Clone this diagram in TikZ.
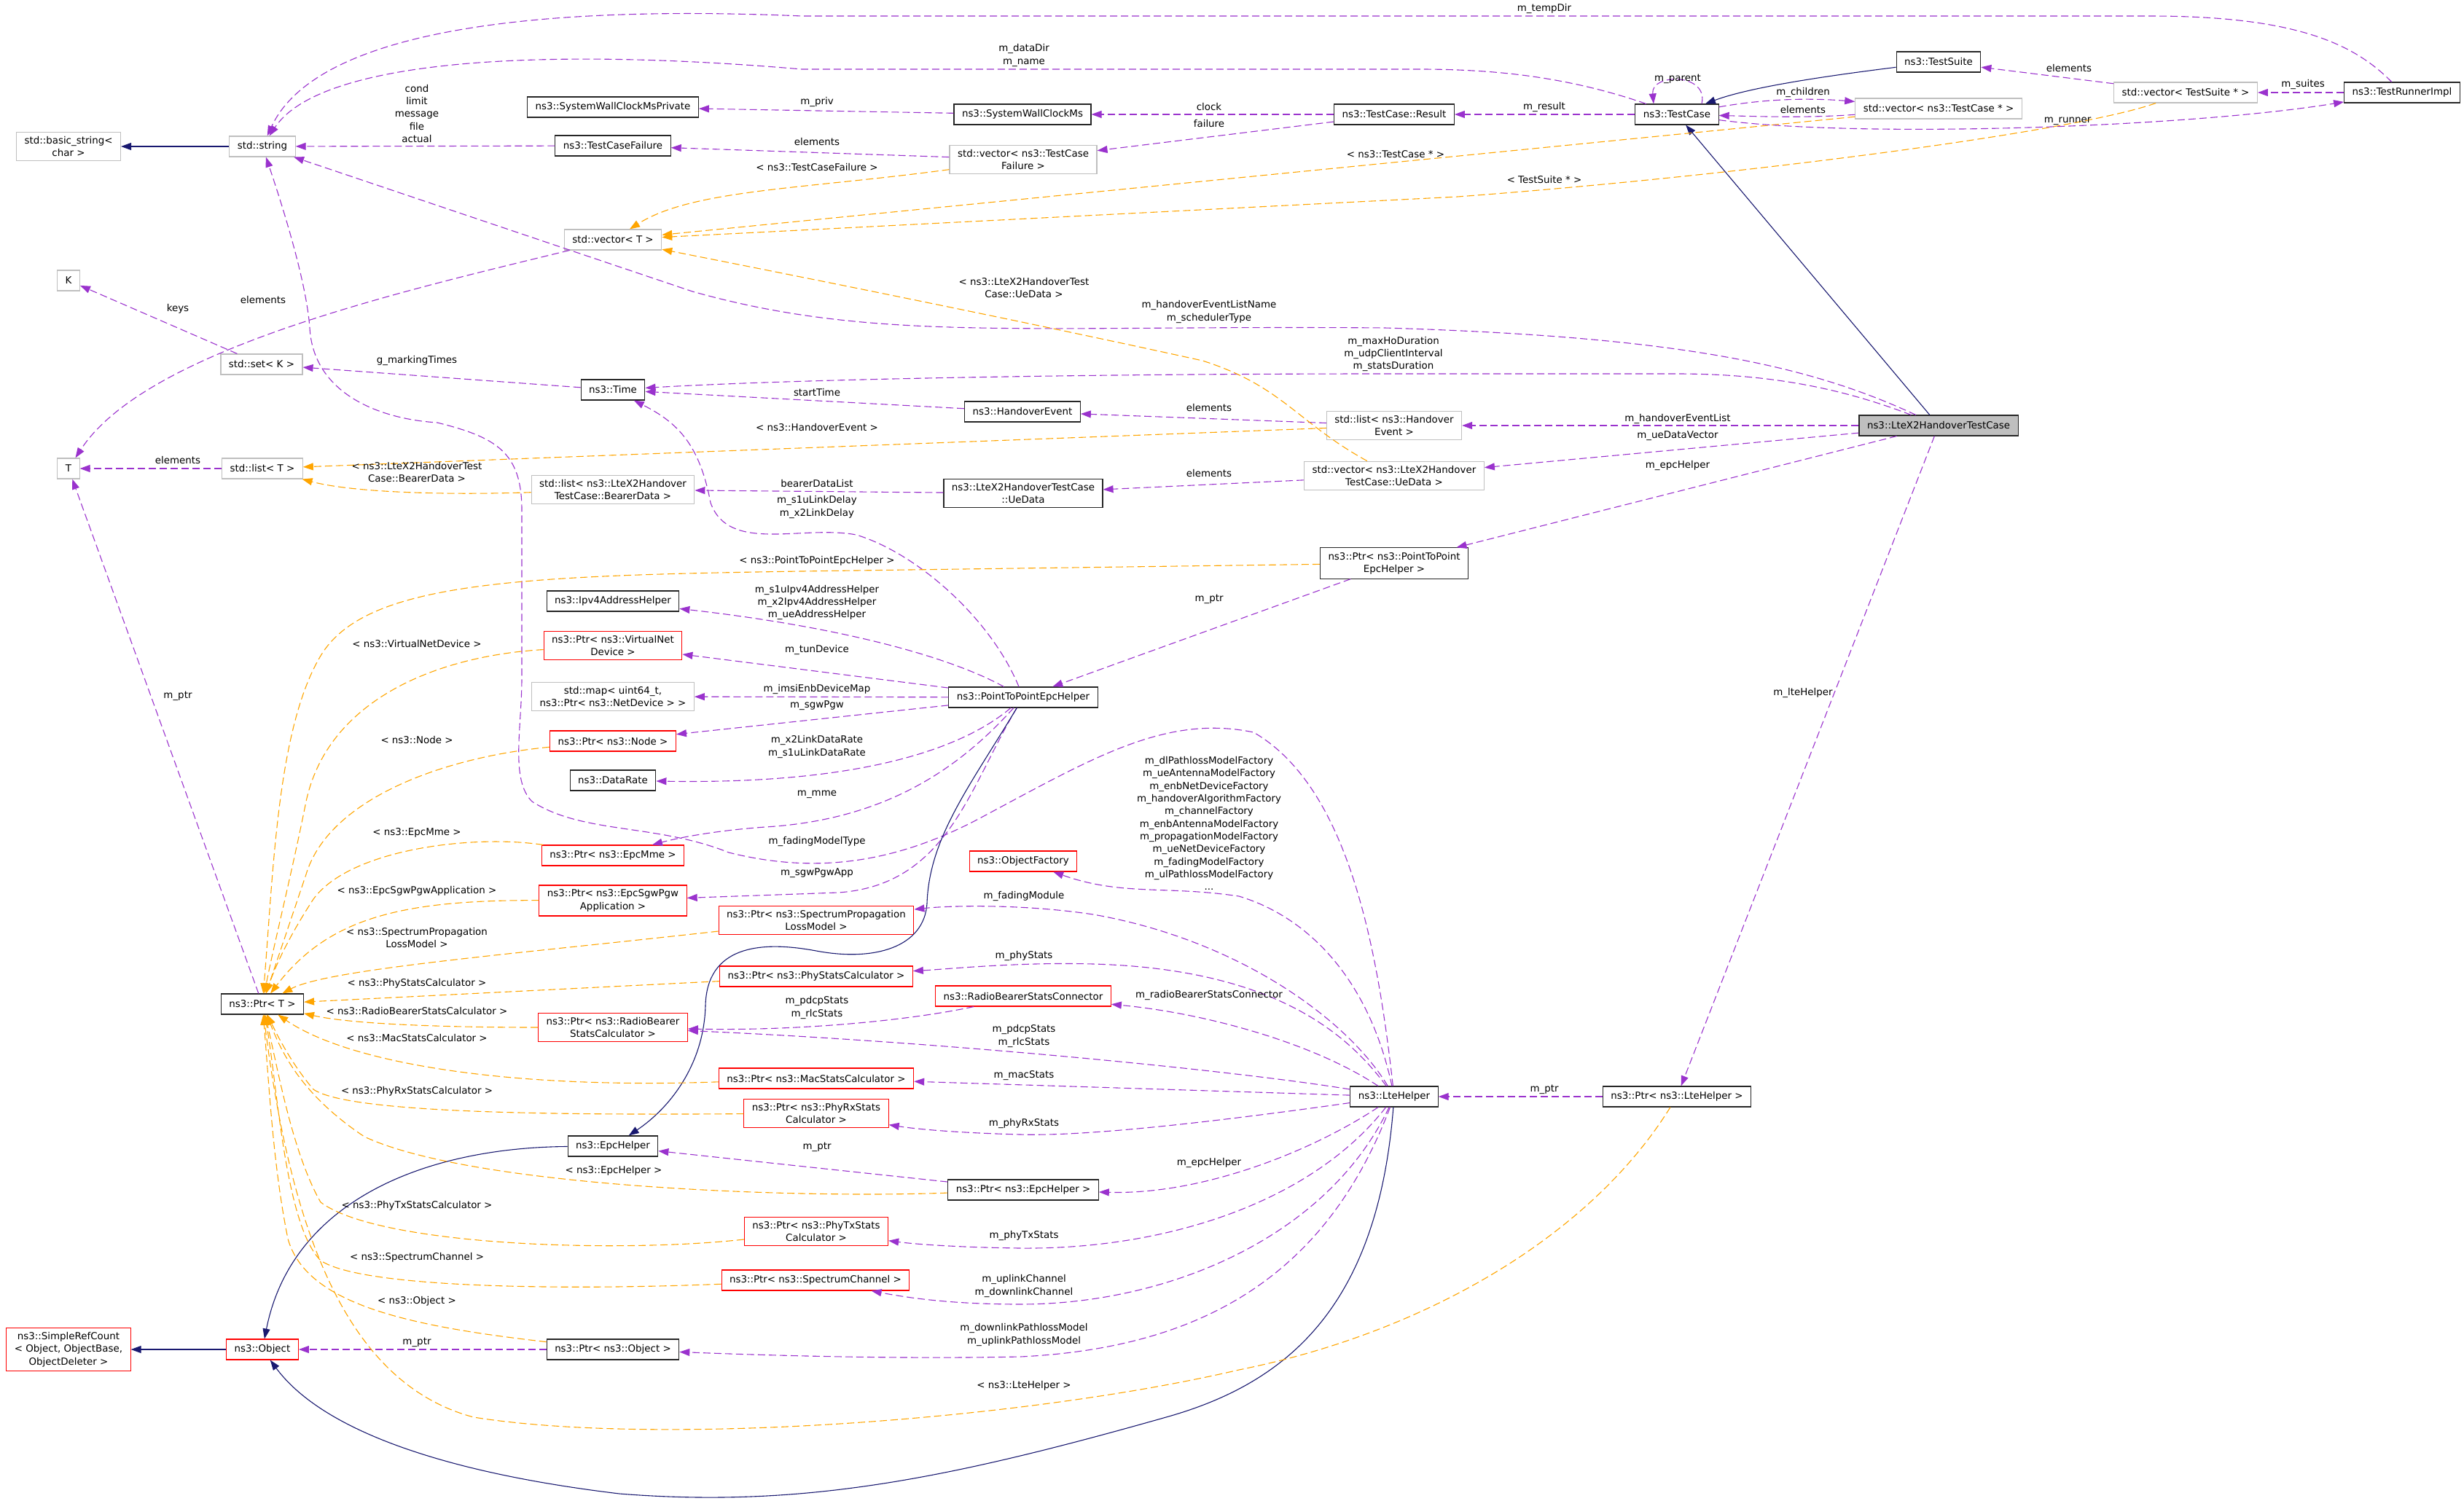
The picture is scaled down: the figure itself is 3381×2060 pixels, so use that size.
\documentclass[tikz,border=0pt]{standalone}
\usepackage{fontspec}
\setmainfont{DejaVu Sans}
\usepackage{tikz}
\usetikzlibrary{arrows.meta}
\definecolor{EdgeUse}{HTML}{9A32CD}
\definecolor{EdgeTmpl}{HTML}{FFA500}
\definecolor{EdgeInh}{HTML}{191970}
\definecolor{BoxGray}{HTML}{BFBFBF}
\definecolor{BoxRed}{HTML}{FF0000}

\begin{document}
\begin{tikzpicture}[
  x=1pt, y=-1pt,
  every node/.style={font=\fontsize{13.4}{17.3}\selectfont},
  classbox/.style={
    draw=black!85,
    line width=1.1pt,
    fill=white,
    align=center,
    inner xsep=11pt,
    inner ysep=6pt,
    minimum height=28pt
  },
  tplbox/.style={classbox, draw=BoxGray},
  redbox/.style={classbox, draw=BoxRed},
  mainbox/.style={classbox, fill=BoxGray},
  edgelabel/.style={align=center, inner sep=0pt},
  usearrow/.style={-{Triangle[length=14pt,width=10pt]}, line width=1.1pt, draw=EdgeUse, dash pattern=on 10pt off 5pt},
  tplarrow/.style={usearrow, draw=EdgeTmpl},
  inharrow/.style={-{Triangle[length=14pt,width=10pt]}, line width=1.1pt, draw=EdgeInh}
]
\useasboundingbox (0,0) rectangle (3381,2060);
\node[tplbox] (bstr) at (94,201) {std::basic\_string<\\char >};
\node[tplbox] (str) at (360,201) {std::string};
\node[classbox] (swcp) at (841,147) {ns3::SystemWallClockMsPrivate};
\node[classbox] (tcf) at (841,200) {ns3::TestCaseFailure};
\node[tplbox] (vect) at (841,329) {std::vector< T >};
\node[tplbox] (kk) at (94,385) {K};
\node[tplbox] (setk) at (359,500) {std::set< K >};
\node[classbox] (time) at (841,535) {ns3::Time};
\node[tplbox] (tt) at (94,643) {T};
\node[tplbox] (listt) at (360,643) {std::list< T >};
\node[tplbox] (listbd) at (841,672) {std::list< ns3::LteX2Handover\\TestCase::BearerData >};
\node[classbox] (swc) at (1403,157) {ns3::SystemWallClockMs};
\node[classbox] (result) at (1913,157) {ns3::TestCase::Result};
\node[tplbox] (vectcf) at (1404,219) {std::vector< ns3::TestCase\\Failure >};
\node[classbox] (hoev) at (1403,565) {ns3::HandoverEvent};
\node[tplbox] (listhe) at (1913,584) {std::list< ns3::Handover\\Event >};
\node[tplbox] (vecue) at (1913,653) {std::vector< ns3::LteX2Handover\\TestCase::UeData >};
\node[classbox] (uedata) at (1404,677) {ns3::LteX2HandoverTestCase\\::UeData};
\node[classbox] (suite) at (2660,85) {ns3::TestSuite};
\node[classbox] (tcase) at (2301,157) {ns3::TestCase};
\node[tplbox] (vectc) at (2660,149) {std::vector< ns3::TestCase * >};
\node[tplbox] (vects) at (2999,127) {std::vector< TestSuite * >};
\node[classbox] (runner) at (3296,127) {ns3::TestRunnerImpl};
\node[mainbox] (handover) at (2660,584) {ns3::LteX2HandoverTestCase};
\node[classbox] (ptrt) at (360,1378) {ns3::Ptr< T >};
\node[classbox] (ipv4) at (841,825) {ns3::Ipv4AddressHelper};
\node[redbox] (pvnd) at (841,886) {ns3::Ptr< ns3::VirtualNet\\Device >};
\node[tplbox] (devmap) at (841,956) {std::map< uint64\_t,\\ ns3::Ptr< ns3::NetDevice > >};
\node[redbox] (pnode) at (841,1017) {ns3::Ptr< ns3::Node >};
\node[classbox] (drate) at (841,1071) {ns3::DataRate};
\node[redbox] (pmme) at (841,1174) {ns3::Ptr< ns3::EpcMme >};
\node[redbox] (psgw) at (841,1236) {ns3::Ptr< ns3::EpcSgwPgw\\Application >};
\node[redbox] (pspl) at (1120,1263) {ns3::Ptr< ns3::SpectrumPropagation\\LossModel >};
\node[redbox] (pphy) at (1120,1340) {ns3::Ptr< ns3::PhyStatsCalculator >};
\node[redbox] (prbsc) at (841,1410) {ns3::Ptr< ns3::RadioBearer\\StatsCalculator >};
\node[classbox] (p2p) at (1404,957) {ns3::PointToPointEpcHelper};
\node[classbox] (pp2p) at (1913,773) {ns3::Ptr< ns3::PointToPoint\\EpcHelper >};
\node[redbox] (ofac) at (1404,1182) {ns3::ObjectFactory};
\node[redbox] (rbscon) at (1404,1367) {ns3::RadioBearerStatsConnector};
\node[redbox] (pmac) at (1120,1480) {ns3::Ptr< ns3::MacStatsCalculator >};
\node[redbox] (prx) at (1120,1528) {ns3::Ptr< ns3::PhyRxStats\\Calculator >};
\node[classbox] (epc) at (841,1573) {ns3::EpcHelper};
\node[classbox] (pepc) at (1404,1633) {ns3::Ptr< ns3::EpcHelper >};
\node[redbox] (ptx) at (1120,1690) {ns3::Ptr< ns3::PhyTxStats\\Calculator >};
\node[redbox] (pchan) at (1119,1757) {ns3::Ptr< ns3::SpectrumChannel >};
\node[redbox] (srefc) at (94,1852) {ns3::SimpleRefCount\\< Object, ObjectBase,\\ObjectDeleter >};
\node[redbox] (obj) at (360,1852) {ns3::Object};
\node[classbox] (pobj) at (841,1852) {ns3::Ptr< ns3::Object >};
\node[classbox] (lte) at (1913,1505) {ns3::LteHelper};
\node[classbox] (plte) at (2301,1505) {ns3::Ptr< ns3::LteHelper >};
\draw[inharrow] (str) -- (bstr);
\draw[usearrow] (tcf) -- (str);
\draw[usearrow] (runner) .. controls (3230,60) and (3150,22) .. (2950,22) -- (1100,22) .. controls (700,5) and (430,50) .. (str);
\draw[usearrow] (tcase) .. controls (2150,105) and (2050,95) .. (1947,95) -- (1100,95) .. controls (750,65) and (440,80) .. (str);
\draw[usearrow] (handover) .. controls (2480,500) and (2300,462) .. (1900,450) .. controls (1400,446) and (1200,470) .. (950,400) -- (str);
\draw[usearrow] (lte) .. controls (1890,1300) and (1850,1080) .. (1720,1005) .. controls (1600,980) and (1500,1040) .. (1350,1120) .. controls (1230,1185) and (1120,1200) .. (1000,1170) .. controls (900,1130) and (800,1145) .. (730,1100) .. controls (700,1070) and (716,1000) .. (716,930) -- (716,700) .. controls (716,620) and (680,600) .. (600,580) .. controls (520,575) and (430,540) .. (425,450) .. controls (420,380) and (380,260) .. (str);
\draw[usearrow] (p2p) .. controls (1330,1080) and (1300,1215) .. (1150,1225) -- (psgw);
\draw[usearrow] (p2p) .. controls (1320,1050) and (1220,1125) .. (1050,1135) .. controls (980,1140) and (930,1150) .. (pmme);
\draw[usearrow] (p2p) .. controls (1330,1020) and (1200,1077) .. (drate);
\draw[usearrow] (p2p) -- (pnode);
\draw[usearrow] (p2p) -- (devmap);
\draw[usearrow] (p2p) -- (pvnd);
\draw[usearrow] (p2p) .. controls (1300,900) and (1150,860) .. (ipv4);
\draw[usearrow] (p2p) .. controls (1360,850) and (1260,760) .. (1175,734) .. controls (1100,720) and (1000,760) .. (975,690) .. controls (960,610) and (930,580) .. (time);
\draw[usearrow] (uedata) -- (listbd);
\draw[inharrow] (p2p) .. controls (1330,1080) and (1275,1150) .. (1272,1240) .. controls (1268,1300) and (1200,1320) .. (1120,1305) .. controls (1040,1290) and (970,1300) .. (968,1380) .. controls (966,1460) and (920,1520) .. (epc);
\draw[inharrow] (epc) .. controls (580,1575) and (400,1650) .. (obj);
\draw[inharrow] (lte) .. controls (1890,1800) and (1760,1900) .. (1600,1945) .. controls (1300,2030) and (1100,2070) .. (850,2050) .. controls (600,2020) and (440,1960) .. (obj);
\draw[inharrow] (obj) -- (srefc);
\draw[usearrow] (pobj) -- (obj);
\draw[tplarrow] (pobj) .. controls (560,1820) and (420,1790) .. (395,1700) .. controls (375,1600) and (370,1500) .. (ptrt);
\draw[usearrow] (lte) .. controls (1820,1750) and (1650,1850) .. (1400,1862) .. controls (1200,1866) and (1000,1858) .. (pobj);
\draw[tplarrow] (plte) .. controls (2180,1700) and (1950,1830) .. (1700,1880) .. controls (1400,1950) and (900,1985) .. (650,1945) .. controls (480,1900) and (400,1700) .. (ptrt);
\draw[usearrow] (handover) -- (plte);
\draw[usearrow] (plte) -- (lte);
\draw[usearrow] (lte) .. controls (1800,1580) and (1650,1640) .. (pepc);
\draw[usearrow] (pepc) -- (epc);
\draw[tplarrow] (pepc) .. controls (1100,1645) and (650,1630) .. (500,1560) .. controls (410,1500) and (385,1440) .. (ptrt);
\draw[usearrow] (lte) .. controls (1800,1650) and (1600,1715) .. (1400,1713) .. controls (1320,1712) and (1260,1708) .. (ptx);
\draw[tplarrow] (ptx) .. controls (850,1720) and (520,1710) .. (440,1650) .. controls (400,1580) and (380,1460) .. (ptrt);
\draw[usearrow] (lte) .. controls (1820,1700) and (1600,1790) .. (1400,1790) .. controls (1300,1790) and (1240,1780) .. (pchan);
\draw[tplarrow] (pchan) .. controls (800,1770) and (500,1770) .. (440,1730) .. controls (390,1680) and (380,1480) .. (ptrt);
\draw[usearrow] (lte) .. controls (1700,1535) and (1500,1560) .. (1400,1557) .. controls (1320,1555) and (1260,1550) .. (prx);
\draw[tplarrow] (prx) .. controls (800,1530) and (480,1530) .. (430,1495) .. controls (400,1460) and (380,1420) .. (ptrt);
\draw[usearrow] (lte) -- (pmac);
\draw[tplarrow] (pmac) .. controls (700,1495) and (480,1460) .. (ptrt);
\draw[usearrow] (lte) .. controls (1700,1470) and (1300,1430) .. (prbsc);
\draw[usearrow] (rbscon) .. controls (1250,1400) and (1100,1415) .. (prbsc);
\draw[usearrow] (lte) .. controls (1800,1430) and (1650,1390) .. (rbscon);
\draw[tplarrow] (prbsc) .. controls (600,1410) and (480,1405) .. (ptrt);
\draw[usearrow] (lte) .. controls (1850,1420) and (1750,1330) .. (1500,1323) .. controls (1400,1320) and (1300,1330) .. (pphy);
\draw[tplarrow] (pphy) -- (ptrt);
\draw[usearrow] (lte) .. controls (1850,1400) and (1700,1290) .. (1500,1255) .. controls (1400,1240) and (1300,1243) .. (pspl);
\draw[tplarrow] (pspl) .. controls (700,1310) and (450,1330) .. (ptrt);
\draw[usearrow] (lte) .. controls (1880,1350) and (1800,1260) .. (1700,1230) .. controls (1600,1215) and (1540,1230) .. (ofac);
\draw[usearrow] (handover) .. controls (2520,530) and (2420,513) .. (2300,513) -- (1900,513) .. controls (1500,513) and (1100,520) .. (time);
\draw[usearrow] (hoev) -- (time);
\draw[usearrow] (time) -- (setk);
\draw[usearrow] (setk) -- (kk);
\draw[usearrow] (vect) .. controls (550,400) and (200,480) .. (tt);
\draw[usearrow] (listt) -- (tt);
\draw[usearrow] (ptrt) -- (tt);
\draw[tplarrow] (listbd) .. controls (600,680) and (480,675) .. (listt);
\draw[tplarrow] (listhe) -- (listt);
\draw[usearrow] (listhe) -- (hoev);
\draw[usearrow] (handover) -- (listhe);
\draw[usearrow] (handover) -- (vecue);
\draw[usearrow] (vecue) -- (uedata);
\draw[tplarrow] (vecue) .. controls (1780,580) and (1760,530) .. (1650,495) .. controls (1400,440) and (1100,380) .. (vect);
\draw[usearrow] (handover) -- (pp2p);
\draw[usearrow] (pp2p) -- (p2p);
\draw[tplarrow] (pp2p) -- (1100,784) .. controls (700,790) and (500,800) .. (440,900) .. controls (380,1000) and (375,1200) .. (ptrt);
\draw[tplarrow] (pvnd) .. controls (600,900) and (450,960) .. (420,1100) .. controls (400,1200) and (375,1300) .. (ptrt);
\draw[tplarrow] (pnode) .. controls (600,1040) and (450,1100) .. (420,1200) -- (ptrt);
\draw[tplarrow] (pmme) .. controls (650,1145) and (480,1165) .. (430,1234) .. controls (400,1280) and (380,1320) .. (ptrt);
\draw[tplarrow] (psgw) .. controls (550,1235) and (450,1260) .. (ptrt);
\draw[inharrow] (handover) -- (tcase);
\draw[usearrow] (tcase) -- (result);
\draw[usearrow] (result) -- (swc);
\draw[usearrow] (result) -- (vectcf);
\draw[usearrow] (swc) -- (swcp);
\draw[usearrow] (vectcf) -- (tcf);
\draw[tplarrow] (vectcf) .. controls (1100,260) and (950,260) .. (vect);
\draw[tplarrow] (vectc) -- (vect);
\draw[tplarrow] (vects) .. controls (2850,180) and (2400,240) .. (2000,270) -- (vect);
\draw[usearrow] ([xshift=34pt]tcase.north) .. controls (2345,100) and (2265,100) .. ([xshift=-32pt]tcase.north);
\draw[usearrow] (tcase) .. controls (2420,136) and (2480,134) .. (vectc);
\draw[usearrow] (vectc) .. controls (2480,162) and (2420,160) .. (tcase);
\draw[usearrow] (tcase) .. controls (2550,190) and (3000,175) .. (runner);
\draw[usearrow] (runner) -- (vects);
\draw[usearrow] (vects) -- (suite);
\draw[inharrow] (suite) .. controls (2500,105) and (2400,120) .. (tcase);
\node[edgelabel] at (2119,12) {m\_tempDir};
\node[edgelabel] at (1405,76) {m\_dataDir\\m\_name};
\node[edgelabel] at (572,156) {cond\\limit\\message\\file\\actual};
\node[edgelabel] at (1121,140) {m\_priv};
\node[edgelabel] at (1659,147) {clock};
\node[edgelabel] at (1659,170) {failure};
\node[edgelabel] at (2119,147) {m\_result};
\node[edgelabel] at (2302,108) {m\_parent};
\node[edgelabel] at (2474,127) {m\_children};
\node[edgelabel] at (2474,151) {elements};
\node[edgelabel] at (2837,166) {m\_runner};
\node[edgelabel] at (2839,94) {elements};
\node[edgelabel] at (3160,116) {m\_suites};
\node[edgelabel] at (1121,195) {elements};
\node[edgelabel] at (1121,230) {< ns3::TestCaseFailure >};
\node[edgelabel] at (1915,212) {< ns3::TestCase * >};
\node[edgelabel] at (2119,247) {< TestSuite * >};
\node[edgelabel] at (1405,395) {< ns3::LteX2HandoverTest\\Case::UeData >};
\node[edgelabel] at (1659,428) {m\_handoverEventListName\\m\_schedulerType};
\node[edgelabel] at (361,412) {elements};
\node[edgelabel] at (244,424) {keys};
\node[edgelabel] at (1912,486) {m\_maxHoDuration\\m\_udpClientInterval\\m\_statsDuration};
\node[edgelabel] at (572,495) {g\_markingTimes};
\node[edgelabel] at (1121,539) {startTime};
\node[edgelabel] at (1659,560) {elements};
\node[edgelabel] at (2302,575) {m\_handoverEventList};
\node[edgelabel] at (1121,587) {< ns3::HandoverEvent >};
\node[edgelabel] at (2302,598) {m\_ueDataVector};
\node[edgelabel] at (244,632) {elements};
\node[edgelabel] at (2302,639) {m\_epcHelper};
\node[edgelabel] at (572,648) {< ns3::LteX2HandoverTest\\Case::BearerData >};
\node[edgelabel] at (1659,650) {elements};
\node[edgelabel] at (1121,663) {bearerDataList};
\node[edgelabel] at (1121,696) {m\_s1uLinkDelay\\m\_x2LinkDelay};
\node[edgelabel] at (1121,770) {< ns3::PointToPointEpcHelper >};
\node[edgelabel] at (1121,827) {m\_s1uIpv4AddressHelper\\m\_x2Ipv4AddressHelper\\m\_ueAddressHelper};
\node[edgelabel] at (1659,822) {m\_ptr};
\node[edgelabel] at (572,883) {< ns3::VirtualNetDevice >};
\node[edgelabel] at (1121,892) {m\_tunDevice};
\node[edgelabel] at (1121,946) {m\_imsiEnbDeviceMap};
\node[edgelabel] at (2474,951) {m\_lteHelper};
\node[edgelabel] at (244,955) {m\_ptr};
\node[edgelabel] at (1121,968) {m\_sgwPgw};
\node[edgelabel] at (572,1015) {< ns3::Node >};
\node[edgelabel] at (1121,1025) {m\_x2LinkDataRate\\m\_s1uLinkDataRate};
\node[edgelabel] at (1121,1090) {m\_mme};
\node[edgelabel] at (1659,1130) {m\_dlPathlossModelFactory\\m\_ueAntennaModelFactory\\m\_enbNetDeviceFactory\\m\_handoverAlgorithmFactory\\m\_channelFactory\\m\_enbAntennaModelFactory\\m\_propagationModelFactory\\m\_ueNetDeviceFactory\\m\_fadingModelFactory\\m\_ulPathlossModelFactory\\...};
\node[edgelabel] at (572,1143) {< ns3::EpcMme >};
\node[edgelabel] at (1121,1155) {m\_fadingModelType};
\node[edgelabel] at (1121,1198) {m\_sgwPgwApp};
\node[edgelabel] at (572,1223) {< ns3::EpcSgwPgwApplication >};
\node[edgelabel] at (1405,1230) {m\_fadingModule};
\node[edgelabel] at (572,1287) {< ns3::SpectrumPropagation\\LossModel >};
\node[edgelabel] at (1405,1312) {m\_phyStats};
\node[edgelabel] at (572,1350) {< ns3::PhyStatsCalculator >};
\node[edgelabel] at (1659,1366) {m\_radioBearerStatsConnector};
\node[edgelabel] at (1121,1383) {m\_pdcpStats\\m\_rlcStats};
\node[edgelabel] at (572,1387) {< ns3::RadioBearerStatsCalculator >};
\node[edgelabel] at (1405,1422) {m\_pdcpStats\\m\_rlcStats};
\node[edgelabel] at (572,1424) {< ns3::MacStatsCalculator >};
\node[edgelabel] at (1405,1476) {m\_macStats};
\node[edgelabel] at (2119,1495) {m\_ptr};
\node[edgelabel] at (572,1498) {< ns3::PhyRxStatsCalculator >};
\node[edgelabel] at (1405,1542) {m\_phyRxStats};
\node[edgelabel] at (1121,1574) {m\_ptr};
\node[edgelabel] at (1659,1596) {m\_epcHelper};
\node[edgelabel] at (842,1607) {< ns3::EpcHelper >};
\node[edgelabel] at (572,1655) {< ns3::PhyTxStatsCalculator >};
\node[edgelabel] at (1405,1696) {m\_phyTxStats};
\node[edgelabel] at (572,1726) {< ns3::SpectrumChannel >};
\node[edgelabel] at (1405,1765) {m\_uplinkChannel\\m\_downlinkChannel};
\node[edgelabel] at (572,1786) {< ns3::Object >};
\node[edgelabel] at (1405,1832) {m\_downlinkPathlossModel\\m\_uplinkPathlossModel};
\node[edgelabel] at (572,1842) {m\_ptr};
\node[edgelabel] at (1405,1902) {< ns3::LteHelper >};
\end{tikzpicture}
\end{document}
